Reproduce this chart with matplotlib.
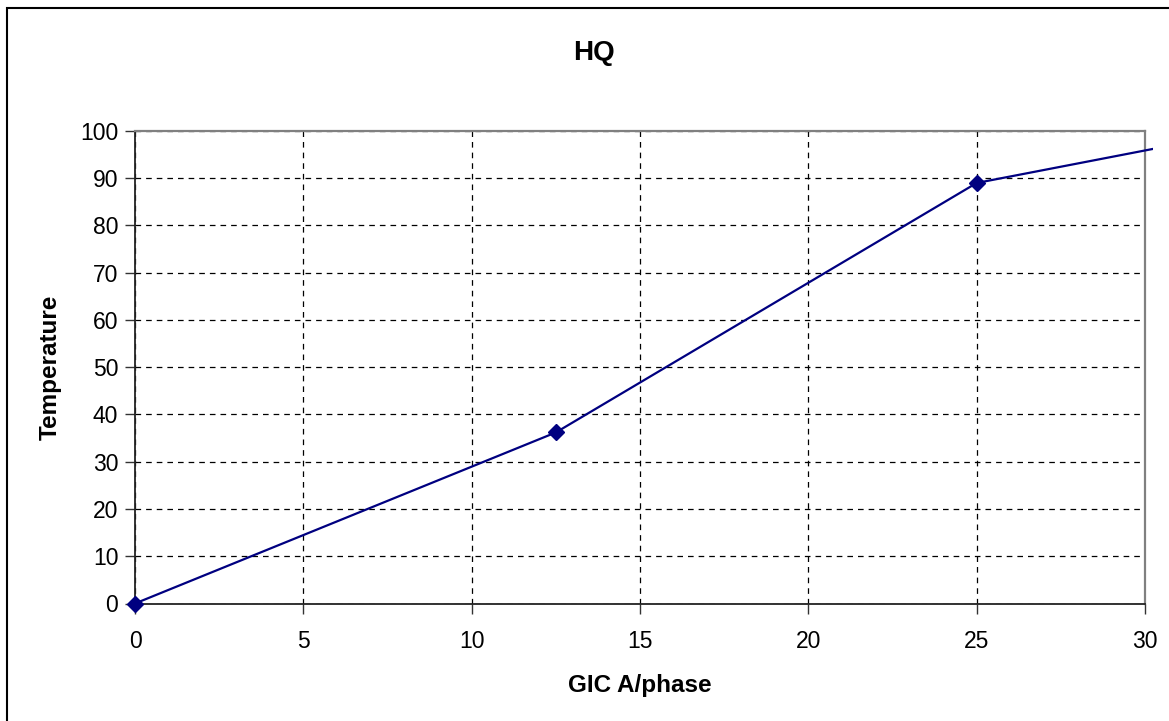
import matplotlib
matplotlib.use("Agg")
from matplotlib import pyplot as plt
from matplotlib.patches import Rectangle

plt.rcParams['font.family'] = ['Liberation Sans', 'DejaVu Sans']

# data
gic = [0, 12.5, 25, 37.5]
temperature = [0, 36.2, 89.0, 106.2]
x_ticks = [0, 5, 10, 15, 20, 25, 30]
y_ticks = [0, 10, 20, 30, 40, 50, 60, 70, 80, 90, 100]

fig = plt.figure(figsize=(11.69, 7.21), dpi=100)
ax = fig.add_axes([135 / 1169, 1 - 603.5 / 721, 1010 / 1169, 472.5 / 721])

line, = ax.plot(gic, temperature, color='#000080', lw=1.6, marker='D',
                ms=8, markeredgecolor='#000080', markerfacecolor='#000080',
                zorder=5)
# excel lets the line run a bit past the plot edge
clip = Rectangle((-0.02, -0.05), 1.028, 1.2, transform=ax.transAxes,
                 fill=False, visible=False)
ax.add_patch(clip)
line.set_clip_path(clip)

ax.set_xlim(0, 30)
ax.set_ylim(0, 100)
ax.set_xticks(x_ticks)
ax.set_yticks(y_ticks)
ax.grid(True, color='black', linestyle=(0, (4.5, 4)), lw=0.9)
ax.tick_params(direction='out', length=7, width=1, colors='#333333',
               labelcolor='black', labelsize=16.5, pad=5)
ax.tick_params(axis='x', pad=12)

for s in ['left', 'bottom']:
    ax.spines[s].set_color('#222222')
    ax.spines[s].set_linewidth(1.3)
for s in ['top', 'right']:
    ax.spines[s].set_color('#808080')
    ax.spines[s].set_linewidth(1.6)

ax.set_xlabel('GIC A/phase', fontsize=17.5, fontweight='bold', labelpad=15)
ax.set_ylabel('Temperature', fontsize=17.5, fontweight='bold', labelpad=13)
fig.text(594 / 1169, 1 - 53 / 721, 'HQ', fontsize=20, fontweight='bold',
         ha='center', va='center')

# chart area border
fig.patches.append(Rectangle((6.5 / 1169, -0.1), 1.2, 1.1 - 7.5 / 721,
                             transform=fig.transFigure, fill=False,
                             edgecolor='black', lw=1.5))

fig.savefig('out.png', dpi=100)
